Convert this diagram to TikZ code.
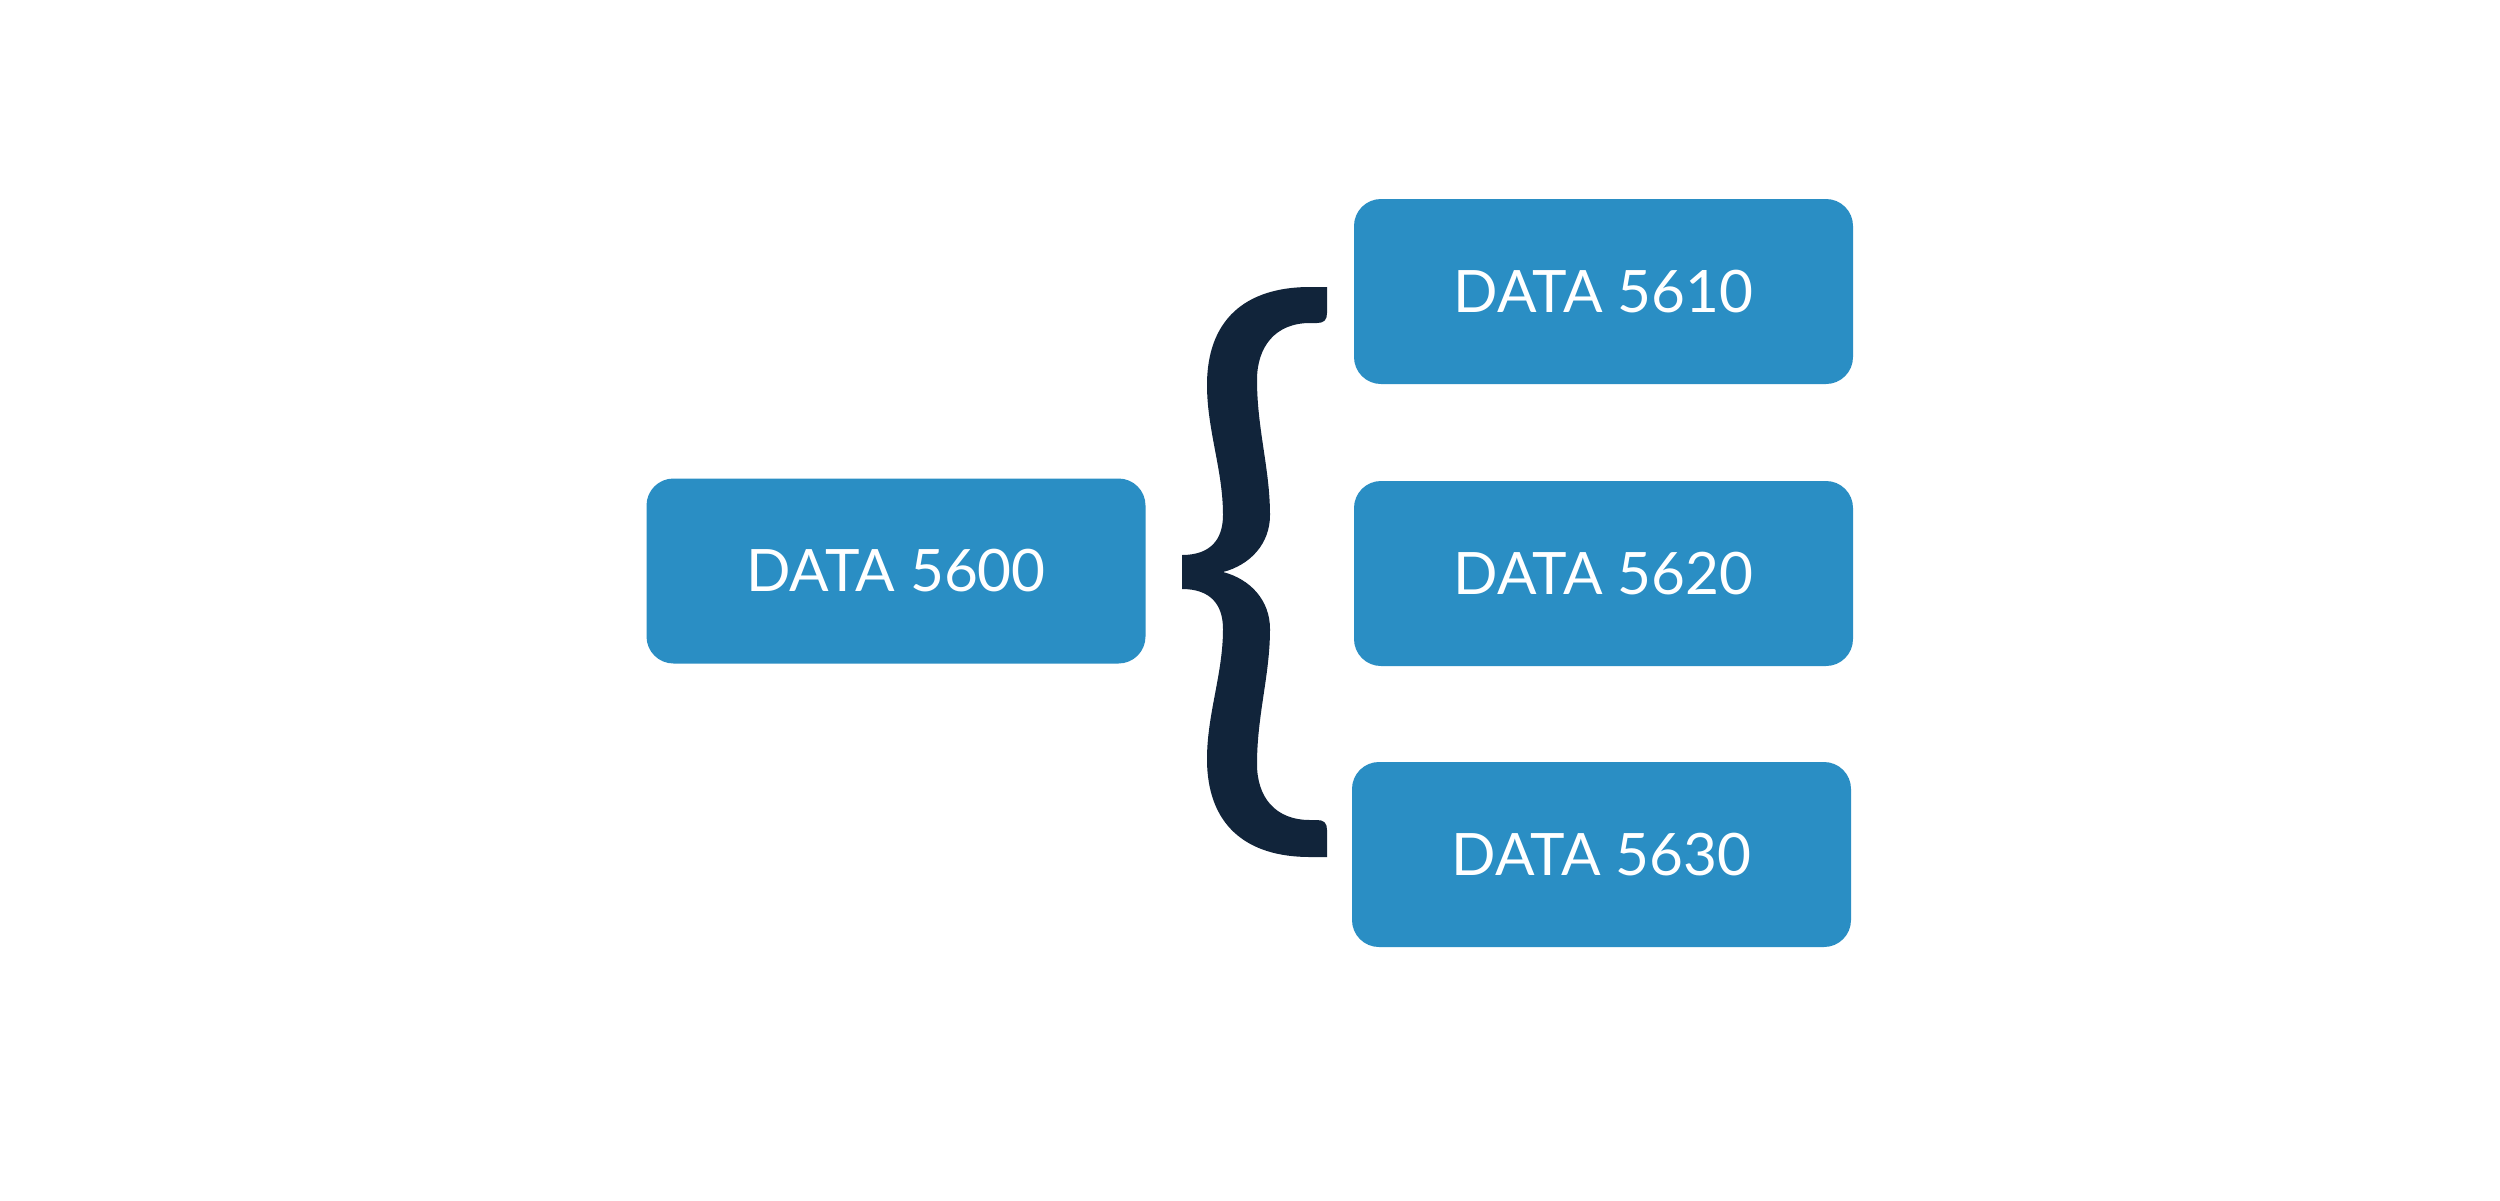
\documentclass[tikz,border=0pt]{standalone}
\usepackage{fontspec}
\setmainfont{Lato}
\definecolor{boxblue}{RGB}{42,142,196}
\definecolor{bracenavy}{RGB}{17,36,58}
\tikzset{
  course/.style={fill=boxblue, draw=none, rounded corners=27pt, minimum width=499pt, minimum height=185pt, inner sep=0pt, outer sep=0pt, text=white, font=\fontsize{58.5}{70}\selectfont},
}
\begin{document}
\begin{tikzpicture}[x=1pt,y=-1pt]
\useasboundingbox[fill=white] (0,0) rectangle (2500,1200);
\node[course] (a) at (896,571) {DATA 5600};
\node[course] (b) at (1603.5,291.5) {DATA 5610};
\node[course] (c) at (1603.5,573.5) {DATA 5620};
\node[course] (d) at (1601.5,854.5) {DATA 5630};
\fill[bracenavy] (1327,287) -- (1310,287) .. controls (1245,287) and (1207,320) .. (1207,385)
  .. controls (1207,430) and (1223,470) .. (1223,515)
  .. controls (1223,540) and (1210,555) .. (1182,555) -- (1182,589)
  .. controls (1210,589) and (1223,604) .. (1223,629)
  .. controls (1223,674) and (1207,714) .. (1207,759)
  .. controls (1207,824) and (1245,857) .. (1310,857) -- (1327,857) -- (1327,830)
  .. controls (1327,823) and (1324,820) .. (1317,820) -- (1310,820)
  .. controls (1275,820) and (1257,797) .. (1257,764)
  .. controls (1257,715) and (1270,675) .. (1270,629)
  .. controls (1270,600) and (1250,579) .. (1223,572)
  .. controls (1250,565) and (1270,544) .. (1270,515)
  .. controls (1270,469) and (1257,429) .. (1257,380)
  .. controls (1257,347) and (1275,323) .. (1310,323) -- (1317,323)
  .. controls (1324,323) and (1327,320) .. (1327,313) -- cycle;
\end{tikzpicture}
\end{document}
